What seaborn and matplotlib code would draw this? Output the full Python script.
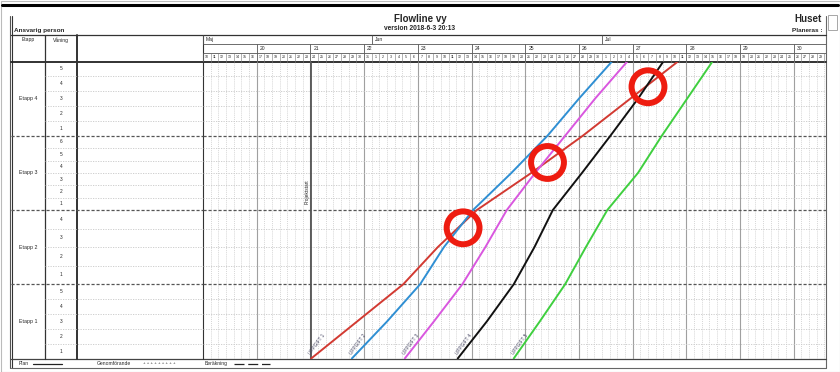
import numpy as np
import pandas as pd
import matplotlib
matplotlib.use("Agg")
import matplotlib.pyplot as plt
import seaborn as sns

# ---- data ---------------------------------------------------------------
etapps = ["Etapp 1", "Etapp 2", "Etapp 3", "Etapp 4"]
floors_per_etapp = [5, 4, 6, 5]

months = ["Maj", "Jun", "Jul"]
week_labels = [20, 21, 22, 23, 24, 25, 26, 27, 28, 29, 30]
week_first_day = 7          # day index where week 20 starts
start_date = "2018-05-10"
n_days = 82
chart_days = 81.2

tasks = ["UPPGIFT 1", "UPPGIFT 2", "UPPGIFT 3", "UPPGIFT 4", "UPPGIFT 5"]
task_colors = ["#d23a32", "#2f8fd3", "#d957df", "#111111", "#3fcf3f"]
levels = [0, 0.5, 1, 1.5, 2, 2.5, 3, 3.5, 4]
task1_days = [14.1, 20.1, 26.1, 30.6, 35.7, 42.8, 49.5, 55.7, 61.9]
task2_days = [19.4, 24.0, 28.3, 31.4, 35.2, 40.2, 44.9, 49.0, 53.3]
task3_days = [26.3, 30.1, 33.8, 36.8, 39.6, 43.3, 47.2, 51.1, 55.3]
task4_days = [33.2, 37.0, 40.5, 43.2, 45.6, 49.4, 53.1, 56.7, 60.0]
task5_days = [40.5, 43.9, 47.2, 49.9, 52.7, 56.7, 59.8, 63.1, 66.4]

project_start = 14.1
circle_days = [33.9, 44.9, 58.0]
circle_levels = [1.76, 2.64, 3.66]

# ---- build long table ----------------------------------------------------
all_days = [task1_days, task2_days, task3_days, task4_days, task5_days]
df = pd.DataFrame({
    "task": np.repeat(tasks, len(levels)),
    "day": np.concatenate(all_days),
    "level": levels * len(tasks),
})

dates = pd.date_range(start_date, periods=n_days)
day_numbers = dates.day.tolist()
month_starts = [0] + [i for i, d in enumerate(day_numbers) if d == 1]

# ---- figure ----------------------------------------------------------------
sns.set_style("white")
plt.rcParams["font.family"] = ["Liberation Sans", "DejaVu Sans"]

W, H = 840, 372
fig = plt.figure(figsize=(W / 100, H / 100), dpi=100)


def box(x0, y0, x1, y1):
    return [x0 / W, 1 - y1 / H, (x1 - x0) / W, (y1 - y0) / H]


# background / frame in pixel coordinates
bg = fig.add_axes([0, 0, 1, 1])
bg.set_xlim(0, W)
bg.set_ylim(H, 0)
bg.axis("off")
bg.add_patch(plt.Rectangle((0.5, 0.5), W - 1, H - 1, fill=False, ec="#bbbbbb", lw=0.8))
bg.plot([2, 838], [5, 5], color="black", lw=2.2)
bg.plot([10, 10], [16, 368], color="#555555", lw=0.8)
bg.plot([12, 12], [16, 368], color="#333333", lw=0.8)
bg.plot([826, 826], [16, 368], color="#666666", lw=0.8)
bg.plot([11, 826], [368, 368], color="#666666", lw=0.8)
bg.add_patch(plt.Rectangle((828, 15), 9, 15, fill=False, ec="#999999", lw=0.6))
bg.plot([11, 826], [35, 35], color="#333333", lw=0.9)
bg.plot([11, 826], [61.5, 61.5], color="#222222", lw=1.3)
bg.plot([11, 826], [358.5, 358.5], color="#444444", lw=0.9)
for xv, lw in [(45, 0.9), (77, 1.4), (203, 0.8)]:
    bg.plot([xv, xv], [35, 358.5], color="#333333", lw=lw)

bg.text(420, 19, "Flowline vy", ha="center", va="center", fontsize=7, fontweight="bold")
bg.text(420, 29, "version 2018-6-3 20:13", ha="center", va="center", fontsize=4.8, fontweight="bold")
bg.text(822, 19, "Huset", ha="right", va="center", fontsize=7, fontweight="bold")
bg.text(822, 30, "Planeras :", ha="right", va="center", fontsize=4.6, fontweight="bold")
bg.text(14, 30.5, "Ansvarig person", ha="left", va="center", fontsize=4.6, fontweight="bold")
bg.text(28, 40, "Etapp", ha="center", va="center", fontsize=3.6)
bg.text(61, 40, "Våning", ha="center", va="center", fontsize=3.6)

# footer legend
bg.text(19, 363.5, "Plan", ha="left", va="center", fontsize=3.6)
bg.plot([33, 62], [363.5, 363.5], color="#222222", lw=0.9)
bg.text(97, 363.5, "Genomförande", ha="left", va="center", fontsize=3.6)
bg.text(143, 363.5, "+ + + + + + + + +", ha="left", va="center", fontsize=3.2, color="#333333")
bg.text(205, 363.5, "Beräkning", ha="left", va="center", fontsize=3.6)
bg.plot([234, 270], [363.5, 363.5], color="#222222", lw=0.9, ls=(0, (8, 3)))

# header with months, weeks, days
axh = fig.add_axes(box(203, 35, 826, 61.5))
axh.set_xlim(0, chart_days)
axh.set_ylim(0, 3)
axh.axis("off")
axh.hlines([1, 2], 0, chart_days, color="#555555", lw=0.6)
for m, s in zip(months, month_starts):
    axh.vlines(s, 2, 3, color="#555555", lw=0.6)
    axh.text(s + 0.4, 2.5, m, ha="left", va="center", fontsize=3.6)
week_starts = [week_first_day + 7 * i for i in range(len(week_labels))]
for w, s in zip(week_labels, week_starts):
    axh.vlines(s, 0, 2, color="#555555", lw=0.6)
    axh.text(s + 0.4, 1.5, str(w), ha="left", va="center", fontsize=3.6)
axh.vlines(np.arange(n_days), 0, 1, color="#777777", lw=0.4)
for i, d in enumerate(day_numbers):
    if i + 0.5 < chart_days:
        axh.text(i + 0.5, 0.5, str(d), ha="center", va="center", fontsize=2.6)

# left table (etapp / våning)
axl = fig.add_axes(box(11, 61.5, 203, 358.5))
axl.set_xlim(11, 203)
axl.set_ylim(0, 4)
axl.axis("off")

# main chart
ax = fig.add_axes(box(203, 61.5, 826, 358.5))
ax.set_xlim(0, chart_days)
ax.set_ylim(0, 4)
ax.axis("off")

# grid lines
ax.vlines(np.arange(1, n_days), 0, 4, color="#c8c8c8", lw=0.5, ls=(0, (1.5, 1.5)), zorder=1)
ax.vlines(week_starts, 0, 4, color="#a0a0a0", lw=0.8, zorder=1)
for i, (name, nf) in enumerate(zip(etapps, floors_per_etapp)):
    bounds = [i + k / nf for k in range(1, nf)]
    ax.hlines(bounds, 0, chart_days, color="#c8c8c8", lw=0.6, ls=(0, (1.5, 1.5)), zorder=1)
    axl.hlines(bounds, 45, 203, color="#c8c8c8", lw=0.6, ls=(0, (1.5, 1.5)))
    axl.text(28, i + 0.5, name, ha="center", va="center", fontsize=3.8)
    for k in range(nf):
        axl.text(61, i + (k + 0.5) / nf, str(k + 1), ha="center", va="center", fontsize=3.4)
ax.hlines([1, 2, 3], 0, chart_days, color="#555555", lw=0.9, ls=(0, (2.5, 1.5)), zorder=1)
axl.hlines([1, 2, 3], 11, 203, color="#555555", lw=0.9, ls=(0, (2.5, 1.5)))

# project start
ax.axvline(project_start, color="#555555", lw=1.3, zorder=2)
ax.text(project_start - 0.55, 2.25, "Projektstart", rotation=90, ha="center", va="center", fontsize=3.4)

# flow lines
sns.lineplot(data=df, x="day", y="level", hue="task", palette=task_colors,
             sort=False, estimator=None, legend=False, lw=1.4, ax=ax, zorder=3)
ax.set_xlim(0, chart_days)
ax.set_ylim(0, 4)
for t, d in zip(tasks, all_days):
    ax.text(d[0] + 0.1, 0.04, t, rotation=54, ha="left", va="bottom",
            fontsize=3.4, color="#4a4a66", rotation_mode="anchor", zorder=4)

# highlight circles
ax.scatter(circle_days, circle_levels, s=560, facecolors="none",
           edgecolors="#ee1c10", linewidths=4.3, zorder=5, clip_on=False)

fig.savefig("out.png", dpi=100)
